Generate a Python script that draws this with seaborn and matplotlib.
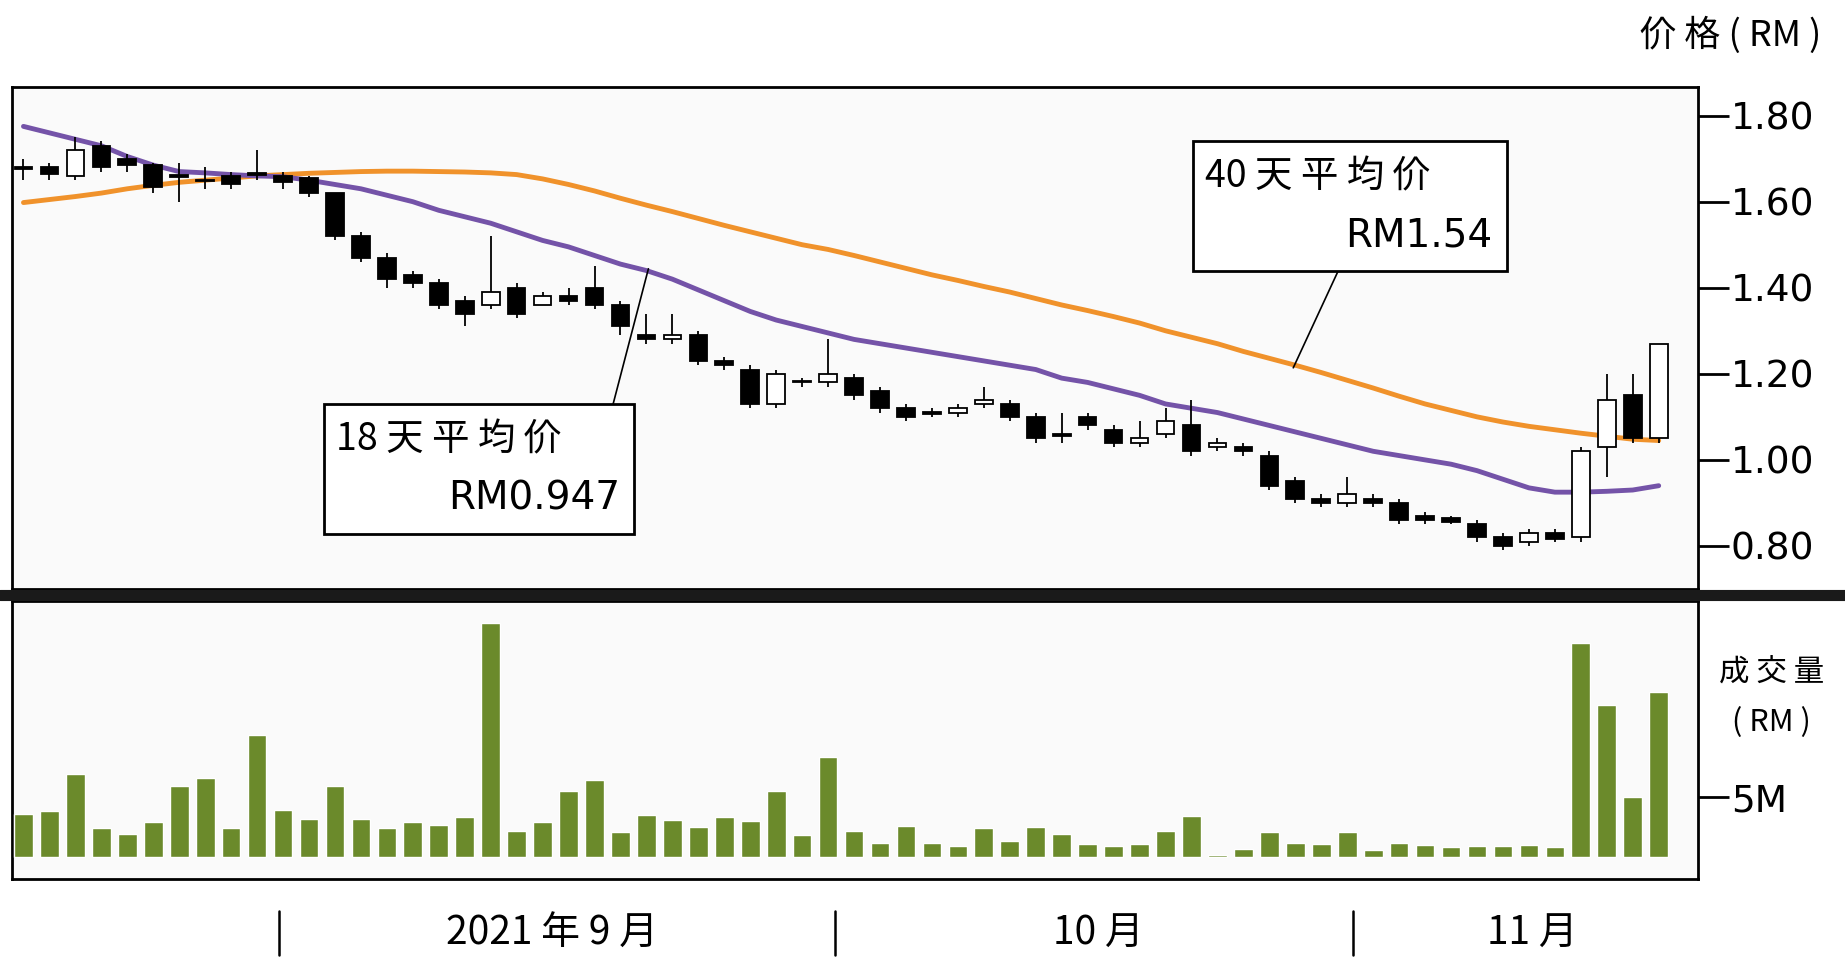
import numpy as np
import pandas as pd
import seaborn as sns
import matplotlib
matplotlib.use("Agg")
import matplotlib.pyplot as plt
from matplotlib import font_manager as fm

sns.set_theme(style="white")
cjk_path = None
for f in fm.findSystemFonts():
    if "NotoSansCJK" in f.replace(" ", "") or "NotoSansSC" in f.replace(" ", ""):
        if cjk_path is None or "Regular" in f:
            cjk_path = f
if cjk_path:
    fm.fontManager.addfont(cjk_path)
    cjk_name = fm.FontProperties(fname=cjk_path).get_name()
else:
    cjk_name = "Noto Sans CJK SC"
plt.rcParams["font.family"] = [cjk_name, "DejaVu Sans"]
plt.rcParams["font.sans-serif"] = [cjk_name, "DejaVu Sans"]
plt.rcParams["text.color"] = "black"

opens = [1.68,1.68,1.66,1.73,1.70,1.685,1.66,1.65,1.66,1.665,1.66,1.655,1.62,1.52,1.47,1.43,1.41,1.37,1.36,1.40,1.36,1.38,1.40,1.36,1.29,1.28,1.29,1.23,1.21,1.13,1.18,1.18,1.19,1.16,1.12,1.11,1.11,1.13,1.13,1.10,1.06,1.10,1.07,1.04,1.06,1.08,1.03,1.03,1.01,0.95,0.91,0.90,0.91,0.90,0.87,0.865,0.85,0.82,0.81,0.83,0.82,1.03,1.15,1.05]
closes = [1.675,1.665,1.72,1.68,1.685,1.635,1.657,1.647,1.64,1.662,1.645,1.62,1.52,1.47,1.42,1.41,1.36,1.34,1.39,1.34,1.38,1.37,1.36,1.31,1.28,1.29,1.23,1.22,1.13,1.20,1.183,1.20,1.15,1.12,1.10,1.107,1.12,1.14,1.10,1.05,1.055,1.08,1.04,1.05,1.09,1.02,1.04,1.02,0.94,0.91,0.90,0.92,0.90,0.86,0.86,0.855,0.82,0.80,0.83,0.815,1.02,1.14,1.05,1.27]
highs = [1.70,1.69,1.75,1.74,1.71,1.69,1.69,1.68,1.67,1.72,1.67,1.66,1.62,1.53,1.48,1.44,1.42,1.38,1.52,1.41,1.39,1.40,1.45,1.37,1.34,1.34,1.30,1.24,1.22,1.21,1.19,1.28,1.20,1.17,1.13,1.12,1.13,1.17,1.14,1.11,1.11,1.11,1.08,1.09,1.12,1.14,1.05,1.04,1.02,0.96,0.92,0.96,0.92,0.91,0.88,0.87,0.86,0.83,0.84,0.84,1.03,1.20,1.20,1.27]
lows = [1.65,1.65,1.65,1.67,1.67,1.62,1.60,1.63,1.63,1.65,1.63,1.61,1.51,1.46,1.40,1.40,1.35,1.31,1.35,1.33,1.37,1.36,1.35,1.29,1.27,1.27,1.22,1.21,1.12,1.12,1.17,1.17,1.14,1.11,1.09,1.10,1.10,1.12,1.09,1.04,1.04,1.07,1.03,1.03,1.05,1.01,1.02,1.01,0.93,0.90,0.89,0.89,0.89,0.85,0.85,0.85,0.81,0.79,0.80,0.81,0.81,0.96,1.04,1.04]
ma18 = [1.775,1.76,1.745,1.73,1.705,1.685,1.67,1.667,1.663,1.66,1.658,1.65,1.64,1.63,1.615,1.60,1.58,1.565,1.55,1.53,1.51,1.495,1.475,1.455,1.44,1.42,1.395,1.37,1.345,1.325,1.31,1.295,1.28,1.27,1.26,1.25,1.24,1.23,1.22,1.21,1.19,1.18,1.165,1.15,1.13,1.12,1.11,1.095,1.08,1.065,1.05,1.035,1.02,1.01,1.0,0.99,0.975,0.955,0.935,0.925,0.925,0.927,0.93,0.94]
ma40 = [1.598,1.605,1.612,1.62,1.63,1.638,1.645,1.65,1.655,1.66,1.663,1.666,1.668,1.67,1.671,1.671,1.67,1.669,1.667,1.663,1.653,1.64,1.625,1.608,1.592,1.577,1.561,1.545,1.53,1.515,1.50,1.489,1.475,1.46,1.445,1.43,1.417,1.403,1.39,1.375,1.36,1.347,1.333,1.318,1.30,1.285,1.27,1.252,1.236,1.22,1.203,1.185,1.167,1.148,1.13,1.115,1.10,1.088,1.078,1.07,1.062,1.055,1.048,1.045]
volume_m = [3.6,3.8,6.9,2.4,1.9,2.9,5.9,6.6,2.4,10.2,3.9,3.2,5.9,3.2,2.4,2.9,2.7,3.3,19.5,2.2,2.9,5.5,6.4,2.1,3.5,3.1,2.5,3.3,3.0,5.5,1.8,8.3,2.2,1.2,2.6,1.2,0.9,2.4,1.3,2.5,1.9,1.1,0.9,1.1,2.2,3.4,0.2,0.7,2.1,1.2,1.1,2.1,0.6,1.2,1.0,0.8,0.9,0.9,1.0,0.8,17.8,12.7,5.0,13.7]
price_ticks = [0.80,1.00,1.20,1.40,1.60,1.80]
month_labels = ["2021 年 9 月", "10 月", "11 月"]

n = len(opens)
df = pd.DataFrame({"i": np.arange(n), "open": opens, "close": closes, "high": highs,
                   "low": lows, "ma18": ma18, "ma40": ma40, "vol": volume_m})

W, H = 1565.0, 822.0
fig = plt.figure(figsize=(18.45, 9.69), dpi=100)
fig.patch.set_facecolor("white")

def fx(x): return x / W
def fy(y): return 1 - y / H

bg = "#fafafa"
ax = fig.add_axes([fx(10), fy(500), fx(1440) - fx(10), fy(74) - fy(500)])
ax.set_facecolor(bg)
xmin, xmax = -0.45, 64.5
ax.set_xlim(xmin, xmax)
ax.set_ylim(0.699, 1.866)

sns.lineplot(data=df, x="i", y="ma40", ax=ax, color="#f0922b", lw=3.5, zorder=2)
sns.lineplot(data=df, x="i", y="ma18", ax=ax, color="#7453a8", lw=3.5, zorder=2)

bw = 0.68
for r in df.itertuples():
    ax.vlines(r.i, r.low, r.high, color="black", lw=1.3, zorder=3)
    lo, hi = min(r.open, r.close), max(r.open, r.close)
    h = max(hi - lo, 0.004)
    up = r.close >= r.open
    ax.bar(r.i, h, bottom=lo, width=bw, color="white" if up else "black",
           edgecolor="black", linewidth=1.3, zorder=4)

ax.yaxis.tick_right()
ax.set_yticks(price_ticks)
ax.set_yticklabels([f"{t:.2f}" for t in price_ticks], fontsize=27, family="DejaVu Sans")
ax.tick_params(axis="y", direction="out", length=22, width=2, pad=2, right=True, colors="black")
ax.set_xticks([])
ax.set_xlabel(""); ax.set_ylabel("")
for s in ax.spines.values():
    s.set_color("black"); s.set_linewidth(2)

def box(x0, y0, x1, y1, l1, l2, lx0, ly0, lx1, ly1):
    fig.add_artist(plt.Rectangle((fx(x0), fy(y1)), fx(x1) - fx(x0), fy(y0) - fy(y1),
                                 transform=fig.transFigure, facecolor="white",
                                 edgecolor="black", lw=2, zorder=10))
    fig.text(fx(x0 + 10), fy(y0 + 30), l1, fontsize=27, va="center", ha="left", zorder=11)
    fig.text(fx(x1 - 12), fy(y0 + 80), l2, fontsize=28, va="center", ha="right",
             family="DejaVu Sans", zorder=11)
    fig.add_artist(plt.Line2D([fx(lx0), fx(lx1)], [fy(ly0), fy(ly1)], color="black",
                              lw=1.2, transform=fig.transFigure, zorder=9))

box(275, 343, 538, 453, "18 天 平 均 价", "RM0.947", 520, 343, 550, 228)
box(1012, 120, 1278, 230, "40 天 平 均 价", "RM1.54", 1135, 230, 1097, 312)

fig.text(fx(1545), fy(30), "价 格 ( RM )", fontsize=26, ha="right", va="center")

fig.add_artist(plt.Line2D([0, 1], [fy(505), fy(505)], color="#1a1a1a", lw=8,
                          transform=fig.transFigure))

axv = fig.add_axes([fx(10), fy(746), fx(1440) - fx(10), fy(510) - fy(746)])
axv.set_facecolor(bg)
axv.bar(df["i"], df["vol"], width=0.72, color="#6b8a2b", zorder=3)
axv.set_xlim(xmin, xmax)
axv.set_ylim(-1.86, 21.3)
axv.yaxis.tick_right()
axv.set_yticks([5])
axv.set_yticklabels(["5M"], fontsize=27, family="DejaVu Sans")
axv.tick_params(axis="y", direction="out", length=22, width=2, pad=2, colors="black")
axv.set_xticks([])
for s in axv.spines.values():
    s.set_color("black"); s.set_linewidth(2)
fig.text(fx(1503), fy(570), "成 交 量", fontsize=22, ha="center", va="center")
fig.text(fx(1503), fy(613), "( RM )", fontsize=22, ha="center", va="center")

for xs in [237, 708, 1148]:
    fig.add_artist(plt.Line2D([fx(xs), fx(xs)], [fy(773), fy(810)], color="black",
                              lw=1.8, transform=fig.transFigure))
for xl, lab in zip([468, 932, 1300], month_labels):
    fig.text(fx(xl), fy(792), lab, fontsize=28, ha="center", va="center")

fig.savefig("out.png", dpi=100, facecolor="white")
